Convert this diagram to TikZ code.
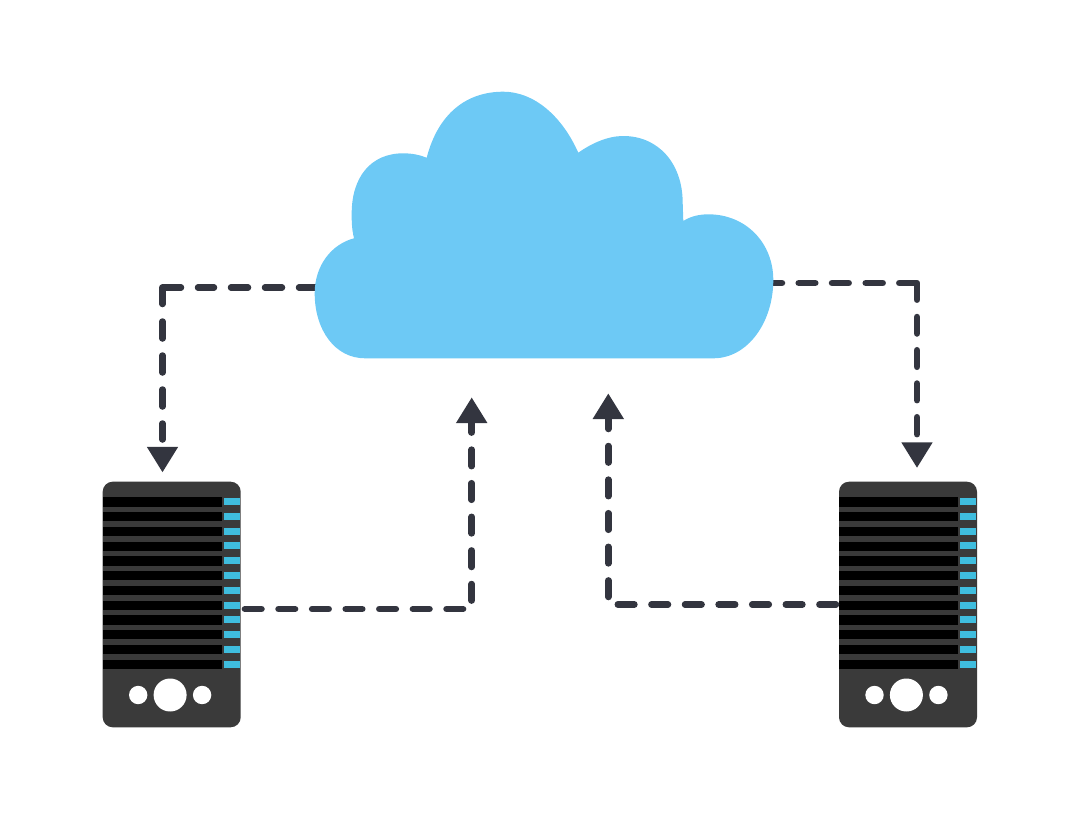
\documentclass[tikz,border=0pt]{standalone}
\usetikzlibrary{arrows.meta}
\definecolor{cloudblue}{HTML}{6DC9F5}
\definecolor{linedark}{HTML}{33353F}
\definecolor{rackgrey}{HTML}{3A3A3A}
\definecolor{ledblue}{HTML}{3FBDDE}
\begin{document}
\begin{tikzpicture}[x=1pt,y=-1pt,
    serverbody/.style={fill=rackgrey,rounded corners=10pt,minimum width=138pt,minimum height=245.6pt,inner sep=0pt},
    dashline/.style={draw=linedark,line width=6.5pt,line cap=round,line join=round,
      -{Triangle[length=25.7pt,width=29.5pt]}}]
  \useasboundingbox (0,0) rectangle (1080,819);
  \foreach \sx/\sname in {102.7/serverleft,839/serverright} {
    \begin{scope}[shift={(\sx,0)}]
      \node[serverbody] (\sname) at (69,604.5) {};
      \foreach \i in {0,...,11} {
        \fill[black] (0,497.3+14.75*\i) rectangle (119.3,506.7+14.75*\i);
        \fill[ledblue] (121.4,498+14.8*\i) rectangle (137,505+14.8*\i);
      }
      \fill[white] (67.4,695) circle (16.5);
      \fill[white] (35.5,695) circle (9.2);
      \fill[white] (99.4,695) circle (9.2);
    \end{scope}
  }
  \coordinate (cloudwest) at (316,287.5);
  \coordinate (cloudeast) at (773,283);
  \coordinate (tipleft) at (162.5,472.5);
  \coordinate (tipright) at (917,468);
  \coordinate (tipupleft) at (471.7,397.3);
  \coordinate (tipupright) at (608.3,393.3);
  \draw[dashline,dash pattern=on 17pt off 17pt on 17pt off 17pt on 17pt off 17pt on 16pt off 17pt on 35pt off 17.5pt]
    (cloudwest) -| (tipleft);
  \draw[dashline,dash pattern=on 16.5pt off 16.7pt on 16.6pt off 16.7pt on 16.7pt off 17pt on 17pt off 16.6pt on 34.4pt off 17.3pt,dash phase=7.5pt]
    (cloudeast) -| (tipright);
  \draw[dashline,dash pattern=on 16.6pt off 17pt,dash phase=29.6pt]
    ([yshift=-4.5pt]serverleft.east) -| (tipupleft);
  \draw[dashline,dash pattern=on 16.6pt off 17pt,dash phase=30.8pt]
    (serverright.west) -| (tipupright);
  \fill[cloudblue] (365,358.3)
    .. controls (335,358.3) and (314.7,330) .. (314.7,293.3)
    .. controls (314.7,265) and (332,244) .. (354,238.3)
    .. controls (351.5,228) and (351.7,220) .. (351.7,213.3)
    .. controls (351.7,178) and (370,153.3) .. (403.3,153.3)
    .. controls (412,153.3) and (420,155) .. (426.7,157.7)
    .. controls (438,114) and (466,91.7) .. (503.3,91.7)
    .. controls (534,91.7) and (562,116) .. (578.3,152.7)
    .. controls (592,143) and (608,136) .. (623.3,136)
    .. controls (658,136) and (682.7,163) .. (682.7,203)
    -- (683.3,221)
    .. controls (691,216) and (700,214.3) .. (708.3,214.3)
    .. controls (746,214.3) and (773.3,243) .. (773.3,280)
    .. controls (773.3,322) and (748,358.3) .. (713.3,358.3) -- cycle;
\end{tikzpicture}
\end{document}
